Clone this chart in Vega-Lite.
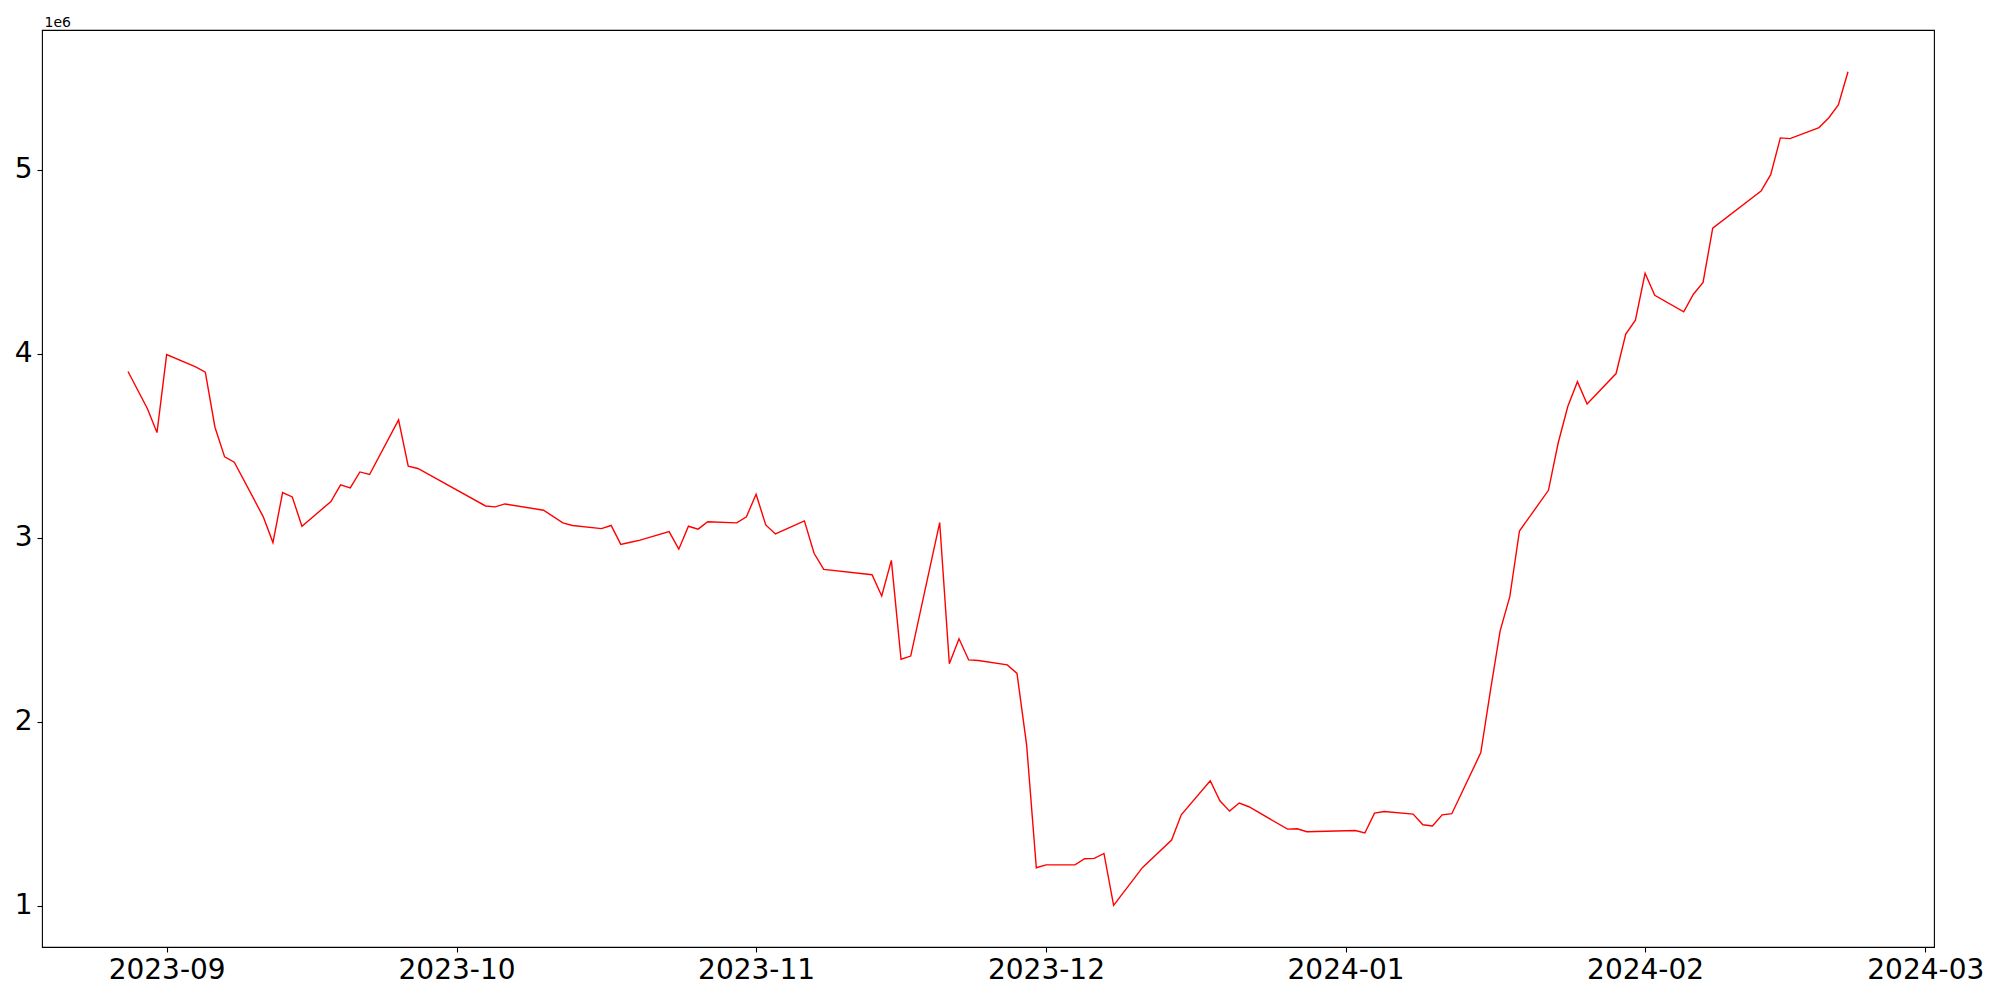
{
  "$schema": "https://vega.github.io/schema/vega-lite/v6.json",
  "autosize": {"type": "none"},
  "padding": {"left": 42, "top": 30, "right": 66, "bottom": 53},
  "width": 1892,
  "height": 917,
  "background": "white",
  "config": {
    "view": {"stroke": "black", "strokeWidth": 1.1},
    "axis": {
      "grid": false,
      "domain": false,
      "tickColor": "black",
      "tickSize": 5,
      "tickWidth": 1.1,
      "labelFont": "DejaVu Sans",
      "labelFontSize": 28,
      "labelColor": "black",
      "labelPadding": 5
    }
  },
  "data": {
    "values": [
      {"date": "2023-08-28T00:00:00", "value": 3904000},
      {"date": "2023-08-30T00:00:00", "value": 3703000},
      {"date": "2023-08-31T00:00:00", "value": 3572000},
      {"date": "2023-09-01T00:00:00", "value": 3996000},
      {"date": "2023-09-04T00:00:00", "value": 3929000},
      {"date": "2023-09-05T00:00:00", "value": 3900000},
      {"date": "2023-09-06T00:00:00", "value": 3601000},
      {"date": "2023-09-07T00:00:00", "value": 3440000},
      {"date": "2023-09-08T00:00:00", "value": 3411000},
      {"date": "2023-09-11T00:00:00", "value": 3114000},
      {"date": "2023-09-12T00:00:00", "value": 2974000},
      {"date": "2023-09-13T00:00:00", "value": 3246000},
      {"date": "2023-09-14T00:00:00", "value": 3222000},
      {"date": "2023-09-15T00:00:00", "value": 3063000},
      {"date": "2023-09-18T00:00:00", "value": 3197000},
      {"date": "2023-09-19T00:00:00", "value": 3288000},
      {"date": "2023-09-20T00:00:00", "value": 3271000},
      {"date": "2023-09-21T00:00:00", "value": 3358000},
      {"date": "2023-09-22T00:00:00", "value": 3344000},
      {"date": "2023-09-25T00:00:00", "value": 3641000},
      {"date": "2023-09-26T00:00:00", "value": 3389000},
      {"date": "2023-09-27T00:00:00", "value": 3377000},
      {"date": "2023-10-04T00:00:00", "value": 3173000},
      {"date": "2023-10-05T00:00:00", "value": 3168000},
      {"date": "2023-10-06T00:00:00", "value": 3184000},
      {"date": "2023-10-10T00:00:00", "value": 3150000},
      {"date": "2023-10-12T00:00:00", "value": 3081000},
      {"date": "2023-10-13T00:00:00", "value": 3067000},
      {"date": "2023-10-16T00:00:00", "value": 3050000},
      {"date": "2023-10-17T00:00:00", "value": 3067000},
      {"date": "2023-10-18T00:00:00", "value": 2964000},
      {"date": "2023-10-19T00:00:00", "value": 2976000},
      {"date": "2023-10-20T00:00:00", "value": 2987000},
      {"date": "2023-10-23T00:00:00", "value": 3034000},
      {"date": "2023-10-24T00:00:00", "value": 2938000},
      {"date": "2023-10-25T00:00:00", "value": 3063000},
      {"date": "2023-10-26T00:00:00", "value": 3047000},
      {"date": "2023-10-27T00:00:00", "value": 3087000},
      {"date": "2023-10-30T00:00:00", "value": 3081000},
      {"date": "2023-10-31T00:00:00", "value": 3114000},
      {"date": "2023-11-01T00:00:00", "value": 3237000},
      {"date": "2023-11-02T00:00:00", "value": 3070000},
      {"date": "2023-11-03T00:00:00", "value": 3021000},
      {"date": "2023-11-06T00:00:00", "value": 3092000},
      {"date": "2023-11-07T00:00:00", "value": 2916000},
      {"date": "2023-11-08T00:00:00", "value": 2828000},
      {"date": "2023-11-13T00:00:00", "value": 2799000},
      {"date": "2023-11-14T00:00:00", "value": 2684000},
      {"date": "2023-11-15T00:00:00", "value": 2877000},
      {"date": "2023-11-16T00:00:00", "value": 2340000},
      {"date": "2023-11-17T00:00:00", "value": 2357000},
      {"date": "2023-11-20T00:00:00", "value": 3083000},
      {"date": "2023-11-21T00:00:00", "value": 2315000},
      {"date": "2023-11-22T00:00:00", "value": 2451000},
      {"date": "2023-11-23T00:00:00", "value": 2336000},
      {"date": "2023-11-24T00:00:00", "value": 2333000},
      {"date": "2023-11-27T00:00:00", "value": 2309000},
      {"date": "2023-11-28T00:00:00", "value": 2263000},
      {"date": "2023-11-29T00:00:00", "value": 1873000},
      {"date": "2023-11-30T00:00:00", "value": 1206000},
      {"date": "2023-12-01T00:00:00", "value": 1222000},
      {"date": "2023-12-04T00:00:00", "value": 1222000},
      {"date": "2023-12-05T00:00:00", "value": 1255000},
      {"date": "2023-12-06T00:00:00", "value": 1257000},
      {"date": "2023-12-07T00:00:00", "value": 1284000},
      {"date": "2023-12-08T00:00:00", "value": 1002000},
      {"date": "2023-12-11T00:00:00", "value": 1208000},
      {"date": "2023-12-14T00:00:00", "value": 1357000},
      {"date": "2023-12-15T00:00:00", "value": 1494000},
      {"date": "2023-12-18T00:00:00", "value": 1679000},
      {"date": "2023-12-19T00:00:00", "value": 1570000},
      {"date": "2023-12-20T00:00:00", "value": 1514000},
      {"date": "2023-12-21T00:00:00", "value": 1558000},
      {"date": "2023-12-22T00:00:00", "value": 1538000},
      {"date": "2023-12-26T00:00:00", "value": 1416000},
      {"date": "2023-12-27T00:00:00", "value": 1418000},
      {"date": "2023-12-28T00:00:00", "value": 1402000},
      {"date": "2024-01-02T00:00:00", "value": 1409000},
      {"date": "2024-01-03T00:00:00", "value": 1395000},
      {"date": "2024-01-04T00:00:00", "value": 1503000},
      {"date": "2024-01-05T00:00:00", "value": 1512000},
      {"date": "2024-01-08T00:00:00", "value": 1498000},
      {"date": "2024-01-09T00:00:00", "value": 1440000},
      {"date": "2024-01-10T00:00:00", "value": 1433000},
      {"date": "2024-01-11T00:00:00", "value": 1494000},
      {"date": "2024-01-12T00:00:00", "value": 1500000},
      {"date": "2024-01-15T00:00:00", "value": 1832000},
      {"date": "2024-01-16T00:00:00", "value": 2170000},
      {"date": "2024-01-17T00:00:00", "value": 2494000},
      {"date": "2024-01-18T00:00:00", "value": 2680000},
      {"date": "2024-01-19T00:00:00", "value": 3037000},
      {"date": "2024-01-22T00:00:00", "value": 3258000},
      {"date": "2024-01-23T00:00:00", "value": 3514000},
      {"date": "2024-01-24T00:00:00", "value": 3714000},
      {"date": "2024-01-25T00:00:00", "value": 3849000},
      {"date": "2024-01-26T00:00:00", "value": 3727000},
      {"date": "2024-01-29T00:00:00", "value": 3893000},
      {"date": "2024-01-30T00:00:00", "value": 4108000},
      {"date": "2024-01-31T00:00:00", "value": 4183000},
      {"date": "2024-02-01T00:00:00", "value": 4438000},
      {"date": "2024-02-02T00:00:00", "value": 4318000},
      {"date": "2024-02-05T00:00:00", "value": 4228000},
      {"date": "2024-02-06T00:00:00", "value": 4324000},
      {"date": "2024-02-07T00:00:00", "value": 4388000},
      {"date": "2024-02-08T00:00:00", "value": 4683000},
      {"date": "2024-02-13T00:00:00", "value": 4885000},
      {"date": "2024-02-14T00:00:00", "value": 4974000},
      {"date": "2024-02-15T00:00:00", "value": 5174000},
      {"date": "2024-02-16T00:00:00", "value": 5170000},
      {"date": "2024-02-19T00:00:00", "value": 5230000},
      {"date": "2024-02-20T00:00:00", "value": 5282000},
      {"date": "2024-02-21T00:00:00", "value": 5353000},
      {"date": "2024-02-22T00:00:00", "value": 5534000}
    ]
  },
  "mark": {"type": "line", "color": "#ff0000", "strokeWidth": 1.4},
  "encoding": {
    "x": {
      "field": "date",
      "type": "temporal",
      "scale": {
        "domain": [
          {"year": 2023, "month": 8, "date": 19, "hours": 2, "minutes": 24},
          {"year": 2024, "month": 3, "date": 1, "hours": 21, "minutes": 36}
        ]
      },
      "axis": {
        "title": null,
        "format": "%Y-%m",
        "labelPadding": 4,
        "values": [
          {"year": 2023, "month": 9, "date": 1},
          {"year": 2023, "month": 10, "date": 1},
          {"year": 2023, "month": 11, "date": 1},
          {"year": 2023, "month": 12, "date": 1},
          {"year": 2024, "month": 1, "date": 1},
          {"year": 2024, "month": 2, "date": 1},
          {"year": 2024, "month": 3, "date": 1}
        ]
      }
    },
    "y": {
      "field": "value",
      "type": "quantitative",
      "scale": {"domain": [775400, 5760600], "nice": false, "zero": false},
      "axis": {
        "values": [1000000, 2000000, 3000000, 4000000, 5000000],
        "labelExpr": "format(datum.value / 1000000, 'd')",
        "title": "1e6",
        "titleAngle": 0,
        "titleX": 2,
        "titleY": -4,
        "titleAlign": "left",
        "titleBaseline": "alphabetic",
        "titleFont": "DejaVu Sans",
        "titleFontSize": 14,
        "titleFontWeight": "normal",
        "titleColor": "black"
      }
    }
  }
}
